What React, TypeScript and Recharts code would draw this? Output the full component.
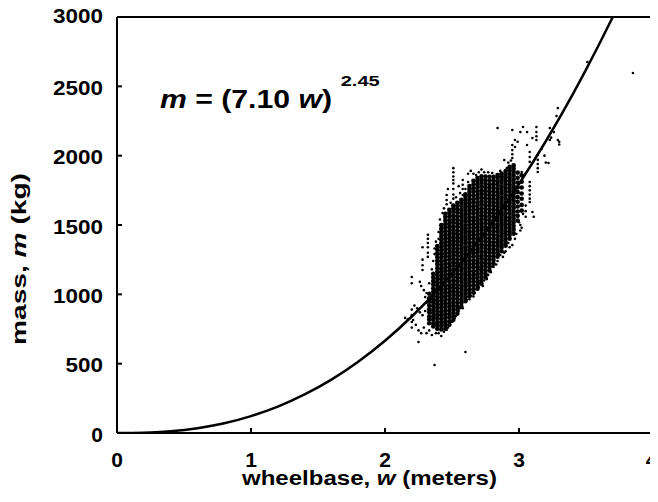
import { ComposedChart, Line, Scatter, XAxis, YAxis, ReferenceLine } from "recharts";

const xTicks = [0, 1, 2, 3, 4];
const yTicks = [0, 500, 1000, 1500, 2000, 2500, 3000];

// fitted curve m = (7.10 w)^2.45
const curveW = [0, 0.2, 0.4, 0.6, 0.8, 1.0, 1.2, 1.4, 1.6, 1.8, 2.0, 2.2, 2.4, 2.6, 2.8, 3.0, 3.2, 3.4, 3.5, 3.6, 3.7];
const curveM = [0, 2, 13, 35, 70, 122, 190, 278, 385, 514, 665, 840, 1039, 1265, 1516, 1796, 2104, 2440, 2620, 2807, 3000];

// dense part of the cloud, one column per wheelbase
const wheelbaseCols = [2.33, 2.36, 2.39, 2.42, 2.45, 2.48, 2.51, 2.54, 2.57, 2.6, 2.63, 2.66, 2.69, 2.72, 2.75, 2.78, 2.81, 2.84, 2.87, 2.9, 2.93, 2.96, 2.99, 3.02];
const massCols = [
  [792, 818, 841, 870, 893, 921, 948, 972, 1004],
  [768, 790, 817, 840, 866, 889, 915, 942, 965, 991, 1018, 1043, 1071, 1096, 1122, 1148],
  [752, 778, 801, 829, 853, 880, 905, 931, 958, 982, 1010, 1034, 1061, 1088, 1112, 1139, 1164, 1190, 1218, 1243, 1270, 1296, 1322, 1349],
  [746, 771, 797, 822, 850, 874, 901, 927, 952, 979, 1003, 1030, 1057, 1081, 1108, 1133, 1160, 1185, 1212, 1238, 1263, 1290, 1316, 1341, 1368, 1393, 1420, 1446, 1472, 1499],
  [752, 779, 803, 830, 856, 882, 908, 933, 960, 986, 1011, 1038, 1063, 1090, 1116, 1141, 1168, 1194, 1219, 1246, 1272, 1297, 1324, 1350, 1376, 1401, 1428, 1455, 1480, 1506, 1532, 1558, 1581],
  [781, 806, 833, 858, 884, 911, 936, 962, 989, 1014, 1041, 1066, 1092, 1119, 1144, 1170, 1197, 1222, 1249, 1274, 1300, 1327, 1352, 1378, 1405, 1430, 1456, 1483, 1508, 1534, 1561, 1586, 1610],
  [816, 842, 867, 894, 920, 945, 972, 997, 1023, 1050, 1075, 1101, 1128, 1153, 1179, 1206, 1231, 1257, 1284, 1309, 1335, 1362, 1387, 1413, 1440, 1465, 1491, 1518, 1543, 1569, 1596, 1620, 1641],
  [861, 888, 913, 939, 966, 991, 1017, 1044, 1069, 1095, 1122, 1147, 1173, 1200, 1225, 1251, 1278, 1303, 1329, 1356, 1381, 1407, 1434, 1459, 1485, 1512, 1537, 1563, 1590, 1614, 1639, 1660],
  [911, 937, 962, 989, 1015, 1040, 1066, 1093, 1118, 1144, 1171, 1196, 1222, 1249, 1274, 1300, 1327, 1352, 1378, 1405, 1430, 1456, 1483, 1508, 1534, 1561, 1586, 1612, 1639, 1663, 1682],
  [951, 977, 1002, 1029, 1055, 1080, 1106, 1133, 1158, 1184, 1211, 1236, 1262, 1289, 1314, 1340, 1367, 1392, 1418, 1445, 1470, 1496, 1523, 1548, 1574, 1601, 1626, 1652, 1679, 1702, 1721],
  [986, 1012, 1037, 1064, 1090, 1115, 1141, 1168, 1193, 1219, 1246, 1271, 1297, 1324, 1349, 1375, 1402, 1427, 1453, 1480, 1505, 1531, 1558, 1583, 1609, 1636, 1661, 1687, 1714, 1738, 1760, 1781],
  [1011, 1037, 1062, 1089, 1115, 1140, 1166, 1193, 1218, 1244, 1271, 1296, 1322, 1349, 1374, 1400, 1427, 1452, 1478, 1505, 1530, 1556, 1583, 1608, 1634, 1661, 1686, 1712, 1739, 1763, 1790, 1818],
  [1041, 1067, 1092, 1119, 1145, 1170, 1196, 1223, 1248, 1274, 1301, 1326, 1352, 1379, 1404, 1430, 1457, 1482, 1508, 1535, 1560, 1586, 1613, 1638, 1664, 1691, 1716, 1742, 1769, 1793, 1817, 1839],
  [1076, 1102, 1127, 1154, 1180, 1205, 1231, 1258, 1283, 1309, 1336, 1361, 1387, 1414, 1439, 1465, 1492, 1517, 1543, 1570, 1595, 1621, 1648, 1673, 1699, 1726, 1751, 1777, 1804, 1828, 1851],
  [1121, 1147, 1172, 1199, 1225, 1250, 1276, 1303, 1328, 1354, 1381, 1406, 1432, 1459, 1484, 1510, 1537, 1562, 1588, 1615, 1640, 1666, 1693, 1718, 1744, 1771, 1796, 1822, 1849],
  [1171, 1197, 1222, 1249, 1275, 1300, 1326, 1353, 1378, 1404, 1431, 1456, 1482, 1509, 1534, 1560, 1587, 1612, 1638, 1665, 1690, 1716, 1743, 1768, 1794, 1821, 1848],
  [1221, 1247, 1272, 1299, 1325, 1350, 1376, 1403, 1428, 1454, 1481, 1506, 1532, 1559, 1584, 1610, 1637, 1662, 1688, 1715, 1740, 1766, 1793, 1820, 1847],
  [1271, 1297, 1322, 1349, 1375, 1400, 1426, 1453, 1478, 1504, 1531, 1556, 1582, 1609, 1634, 1660, 1687, 1712, 1738, 1765, 1790, 1816, 1842, 1861],
  [1311, 1337, 1362, 1389, 1415, 1440, 1466, 1493, 1518, 1544, 1571, 1596, 1622, 1649, 1674, 1700, 1727, 1752, 1778, 1805, 1830, 1852, 1871],
  [1351, 1377, 1402, 1429, 1455, 1480, 1506, 1533, 1558, 1584, 1611, 1636, 1662, 1689, 1714, 1740, 1767, 1792, 1818, 1845, 1868, 1889],
  [1401, 1427, 1452, 1479, 1505, 1530, 1556, 1583, 1608, 1634, 1661, 1686, 1712, 1739, 1764, 1790, 1817, 1842, 1868, 1895, 1919],
  [1441, 1467, 1492, 1519, 1545, 1570, 1596, 1623, 1648, 1674, 1701, 1726, 1752, 1779, 1804, 1830, 1857, 1882, 1908, 1931],
  [1532, 1566, 1597, 1633, 1668, 1701, 1737, 1770, 1806, 1841, 1878],
  [1604, 1645, 1689, 1727, 1770, 1812, 1858],
];

// scattered cars around the edges of the cloud [wheelbase, mass]
const sparseCars: [number, number][] = [
  [2.51, 1910], [2.51, 1880], [2.51, 1850], [2.51, 1825], [2.51, 1800], [2.51, 1760], [2.51, 1720], [2.51, 1690],
  [2.58, 1825], [2.58, 1790], [2.58, 1760], [2.58, 1716], [2.55, 1780], [2.62, 1870], [2.64, 1890], [2.66, 1870],
  [2.7, 1880], [2.72, 1900], [2.74, 1880], [2.46, 1716], [2.46, 1680], [2.46, 1650], [2.47, 1760], [2.43, 1587],
  [2.4, 1450], [2.4, 1400], [2.32, 1430], [2.32, 1400], [2.32, 1370], [2.32, 1340], [2.32, 1300], [2.32, 1270],
  [2.28, 1340], [2.28, 1250], [2.28, 1210], [2.28, 1175], [2.2, 1125], [2.2, 1080], [2.26, 1090], [2.27, 1060],
  [2.29, 1030], [2.31, 1010], [2.3, 980], [2.33, 1080], [2.35, 1180], [2.36, 1240], [2.22, 920], [2.24, 900],
  [2.26, 870], [2.28, 850], [2.3, 880], [2.31, 940], [2.15, 830], [2.17, 820], [2.2, 890], [2.2, 850], [2.2, 800],
  [2.2, 760], [2.21, 815], [2.23, 780], [2.25, 740], [2.25, 656], [2.27, 720], [2.29, 760], [2.31, 720], [2.33, 740],
  [2.35, 707], [2.37, 490], [2.6, 584], [2.4, 720], [2.44, 730], [2.47, 760], [2.5, 800], [2.52, 830], [2.55, 880],
  [2.58, 900], [2.61, 960], [2.64, 990], [2.67, 1010], [2.7, 1050], [2.71, 1082], [2.74, 1100], [2.77, 1140],
  [2.8, 1200], [2.81, 1197], [2.84, 1240], [2.86, 1284], [2.88, 1270], [2.9, 1310], [2.93, 1340], [2.95, 1355],
  [2.97, 1400], [2.98, 1435], [2.96, 1428], [2.84, 2200], [2.95, 2185], [3.03, 2207], [3.06, 2170], [3.13, 2207],
  [3.13, 2170], [3.13, 2140], [3.13, 2113], [3.1, 2127], [3.23, 2200], [3.29, 2113], [3.29, 2343], [3.28, 2286],
  [3.3, 2100], [3.3, 2080], [3.23, 2113], [3.22, 1947], [2.97, 2113], [2.97, 2063], [2.95, 2077], [2.95, 2040],
  [2.95, 2010], [2.95, 1983], [3.06, 2077], [3.08, 2026], [3.08, 1990], [3.08, 1955], [3.14, 2005], [3.14, 1970],
  [3.14, 1940], [3.14, 1910], [3.14, 1882], [2.89, 1969], [2.91, 1910], [3.02, 1882], [3.08, 1810], [3.08, 1780],
  [3.08, 1750], [3.08, 1720], [3.08, 1690], [3.08, 1666], [3.1, 1594], [3.11, 1560], [3.05, 1640], [3.05, 1600],
  [3.05, 1560], [3.01, 1500], [3.01, 1460], [3.02, 1480], [2.99, 2100], [3.01, 2170], [3.17, 2050], [3.19, 2000],
  [3.2, 1950], [3.24, 2130], [3.26, 2170], [3.51, 2675], [3.85, 2596],
  [2.37, 1290], [2.37, 1330], [2.38, 1380], [2.41, 1540], [2.44, 1620], [2.49, 1660], [2.53, 1700], [2.56, 1730],
  [2.6, 1760], [2.62, 1810], [2.68, 1860], [2.77, 1880], [2.8, 1875], [2.86, 1890], [2.92, 1950], [2.94, 1965],
  [2.38, 720], [2.42, 700], [2.46, 745], [2.53, 845], [2.56, 900], [2.63, 965], [2.66, 985], [2.73, 1060],
  [2.76, 1110], [2.79, 1160], [2.83, 1215], [2.89, 1300], [2.92, 1370], [3.0, 1520], [3.03, 1580],
];

const curve = curveW.map((w, i) => ({ w, m: curveM[i] }));
const cloud = wheelbaseCols.flatMap((w, i) => massCols[i].map((m) => ({ w, m })));
const sparse = sparseCars.map(([w, m]) => ({ w, m }));

const FONT = '"Liberation Sans", Arial, sans-serif';

const dot = (r: number) => (p: any) => <circle cx={p.cx} cy={p.cy} r={r} fill="#000" />;

const XTick = (p: any) => (
  <text
    x={p.x - (p.payload.value === 4 ? 1.5 : 0)}
    y={p.y + 34}
    textAnchor="middle"
    fontSize={21}
    fontWeight="bold"
    fontFamily={FONT}
    fill="#000"
  >
    {p.payload.value}
  </text>
);

const YTick = (p: any) => {
  const label = String(p.payload.value);
  return (
    <text
      x={p.x}
      y={p.y + (p.payload.value === 3000 ? 5.7 : 8.7)}
      textAnchor="end"
      fontSize={21}
      fontWeight="bold"
      fontFamily={FONT}
      fill="#000"
      textLength={label.length > 1 ? label.length * 12.5 : undefined}
      lengthAdjust="spacingAndGlyphs"
    >
      {label}
    </text>
  );
};

export default function App() {
  return (
    <div style={{ position: "relative", width: 658, height: 502, margin: -8 }}>
      <ComposedChart width={658} height={502} margin={{ top: 17, right: 5, left: 0, bottom: 0 }} style={{ overflow: "visible" }}>
        <XAxis
          type="number"
          dataKey="w"
          domain={[0, 4]}
          ticks={xTicks}
          interval={0}
          height={69}
          tickSize={-5}
          tickMargin={5}
          allowDataOverflow
          axisLine={{ stroke: "#000", strokeWidth: 2 }}
          tickLine={{ stroke: "#000", strokeWidth: 2 }}
          tick={<XTick />}
        />
        <YAxis
          type="number"
          dataKey="m"
          domain={[0, 3000]}
          ticks={yTicks}
          interval={0}
          width={117}
          tickSize={-5}
          tickMargin={19}
          allowDataOverflow
          axisLine={{ stroke: "#000", strokeWidth: 2 }}
          tickLine={{ stroke: "#000", strokeWidth: 2 }}
          tick={<YTick />}
        />
        <ReferenceLine y={3000} stroke="#000" strokeWidth={2} />
        <ReferenceLine x={4} stroke="#000" strokeWidth={2} />
        <Scatter data={cloud} shape={dot(2.3)} isAnimationActive={false} />
        <Scatter data={sparse} shape={dot(1.3)} isAnimationActive={false} />
        <Line data={curve} dataKey="m" type="monotone" dot={false} stroke="#000" strokeWidth={2.5} isAnimationActive={false} />
      </ComposedChart>
      <svg width={658} height={502} style={{ position: "absolute", left: 0, top: 0, pointerEvents: "none", overflow: "visible" }}>
        <g fontFamily={FONT} fontWeight="bold" fill="#000">
          <text x={369.5} y={485} textAnchor="middle" fontSize={21} textLength={255} lengthAdjust="spacingAndGlyphs">
            wheelbase, <tspan fontStyle="italic">w</tspan> (meters)
          </text>
          <text
            transform="translate(26,259) rotate(-90)"
            textAnchor="middle"
            fontSize={21}
            textLength={172}
            lengthAdjust="spacingAndGlyphs"
          >
            mass, <tspan fontStyle="italic">m</tspan> (kg)
          </text>
          <text x={160} y={107.7} fontSize={25} textLength={172} lengthAdjust="spacingAndGlyphs">
            <tspan fontStyle="italic">m</tspan> = (7.10 <tspan fontStyle="italic">w</tspan>)
          </text>
          <text x={340.7} y={85.7} fontSize={15} textLength={39} lengthAdjust="spacingAndGlyphs">
            2.45
          </text>
        </g>
      </svg>
    </div>
  );
}
